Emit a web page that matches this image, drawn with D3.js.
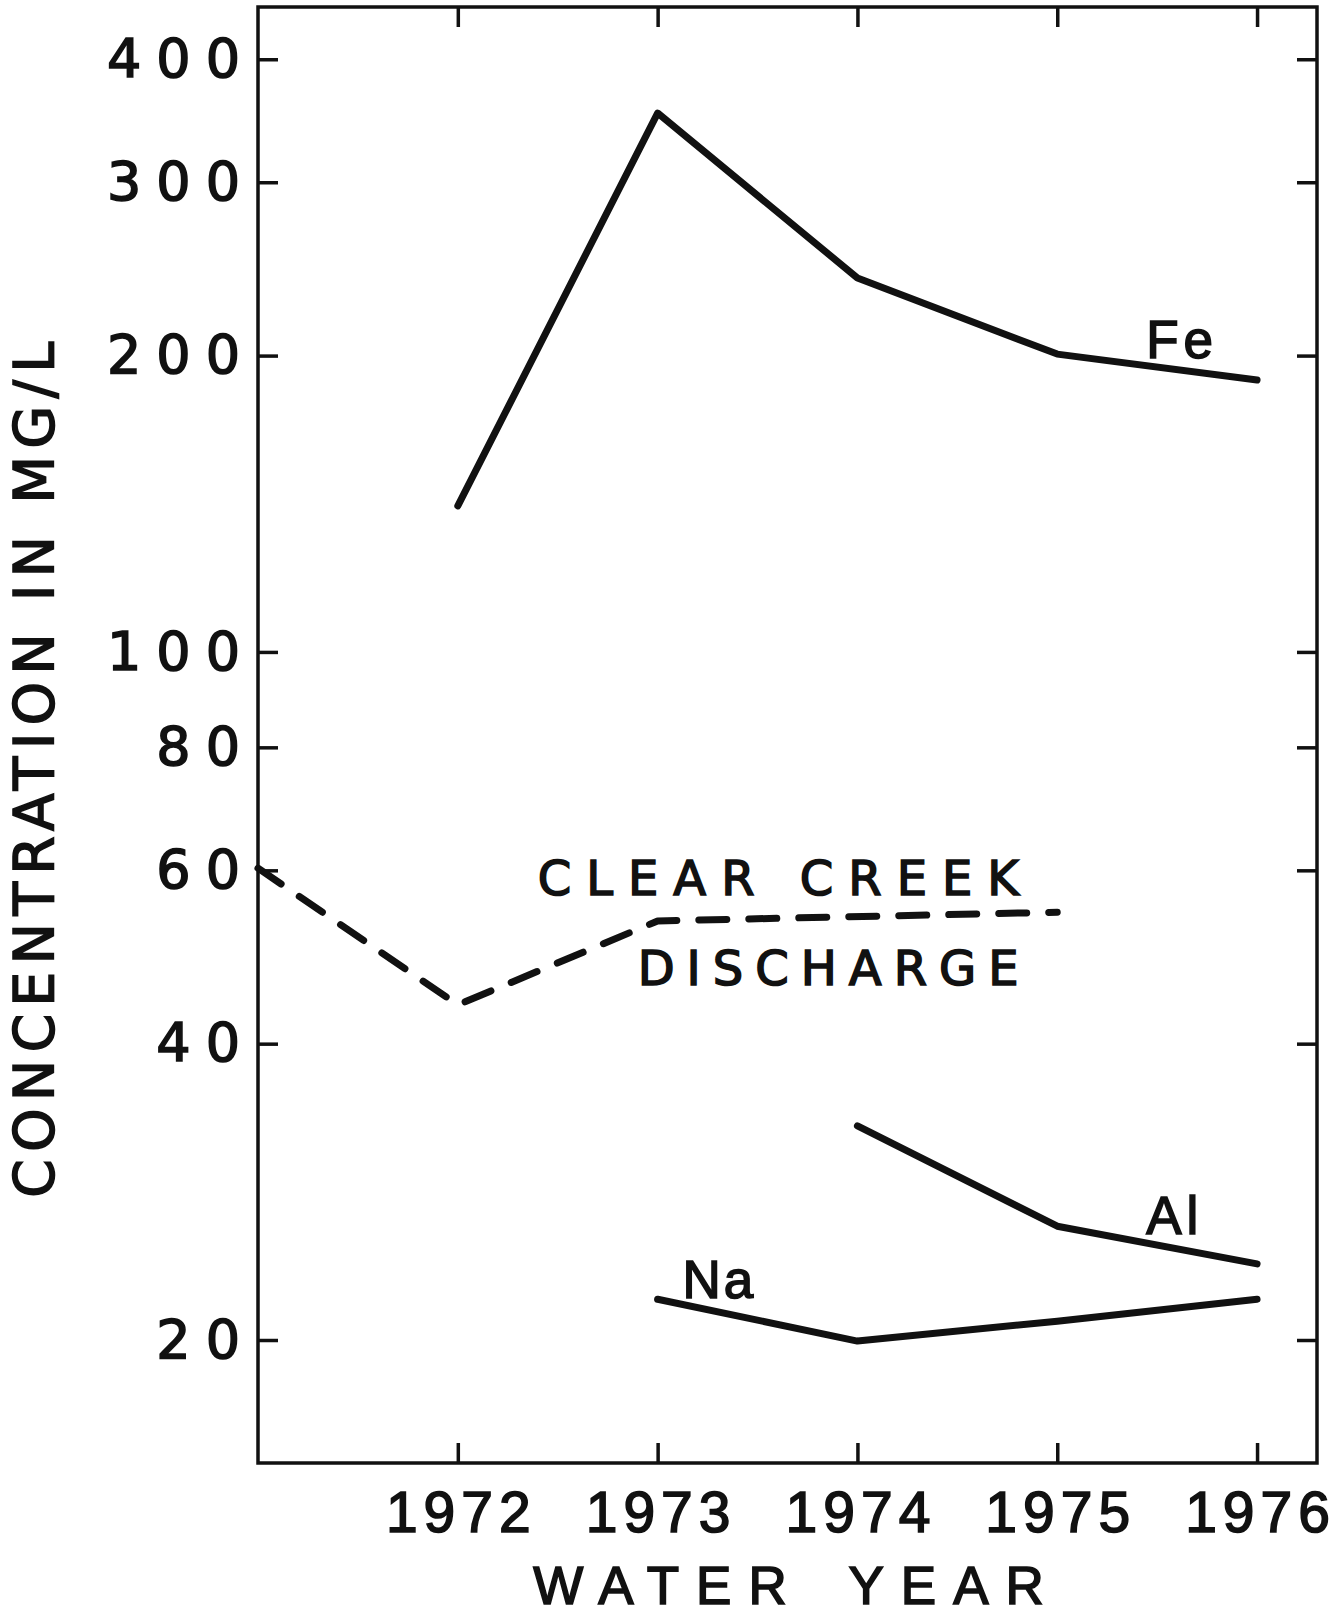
<!DOCTYPE html>
<html>
<head>
<meta charset="utf-8">
<script src="https://cdn.jsdelivr.net/npm/d3@7"></script>
<style>
  body { margin: 0; background: #fff; }
  svg { display: block; }
  text { stroke: #111; stroke-width: 1.6px; }
</style>
</head>
<body>
<div id="chart"></div>
<script>
// Data
const years = [1972, 1973, 1974, 1975, 1976];
const yTicks = [20, 40, 60, 80, 100, 200, 300, 400];

const feYears = [1972, 1973, 1974, 1975, 1976];
const feValues = [140.7, 352.7, 239.8, 200.7, 188.9];

const dischargeYears = [1971, 1972, 1973, 1975];
const dischargeValues = [60.3, 43.8, 53.3, 54.4];

const alYears = [1974, 1975, 1976];
const alValues = [33.0, 26.1, 23.9];

const naYears = [1973, 1974, 1975, 1976];
const naValues = [22.0, 19.95, 20.9, 22.0];

const width = 1344, height = 1617;
const ink = "#111";

const svg = d3.select("#chart")
    .append("svg")
    .attr("width", width)
    .attr("height", height);

svg.append("rect")
    .attr("width", width)
    .attr("height", height)
    .attr("fill", "#fff");

const plotLeft = 258, plotRight = 1317, plotTop = 7, plotBottom = 1463;

const x = d3.scaleLinear().domain([1971, 1976.3]).range([plotLeft, plotRight]);
const y = d3.scaleLog().domain([15, 452]).range([plotBottom, plotTop]);

// axes, ticks pointing inward on all four sides
const styleAxis = (g) => {
    g.select(".domain").remove();
    g.selectAll(".tick line")
        .attr("stroke", ink)
        .attr("stroke-width", 3.5);
};

svg.append("g")
    .attr("transform", "translate(" + plotLeft + ",0)")
    .call(d3.axisLeft(y).tickValues(yTicks).tickSize(-20).tickPadding(3)
        .tickFormat(d3.format("d")))
    .call(styleAxis)
    .call(g => g.selectAll(".tick text")
        .attr("fill", ink)
        .style("font-family", "DejaVu Sans")
        .style("font-size", "54px")
        .style("letter-spacing", "15px"));

svg.append("g")
    .attr("transform", "translate(" + plotRight + ",0)")
    .call(d3.axisRight(y).tickValues(yTicks).tickSize(-20).tickFormat(""))
    .call(styleAxis);

svg.append("g")
    .attr("transform", "translate(0," + plotBottom + ")")
    .call(d3.axisBottom(x).tickValues(years).tickSize(-20).tickPadding(29)
        .tickFormat(d3.format("d")))
    .call(styleAxis)
    .call(g => g.selectAll(".tick text")
        .attr("fill", ink)
        .attr("dx", "3px")
        .style("font-family", "Liberation Sans")
        .style("font-size", "57px")
        .style("letter-spacing", "6px"));

svg.append("g")
    .attr("transform", "translate(0," + plotTop + ")")
    .call(d3.axisTop(x).tickValues(years).tickSize(-20).tickFormat(""))
    .call(styleAxis);

// frame
svg.append("rect")
    .attr("x", plotLeft)
    .attr("y", plotTop)
    .attr("width", plotRight - plotLeft)
    .attr("height", plotBottom - plotTop)
    .attr("fill", "none")
    .attr("stroke", ink)
    .attr("stroke-width", 3.5);

// series
const line = d3.line()
    .x(d => x(d[0]))
    .y(d => y(d[1]));

const drawSeries = (xs, vs, dashed) => {
    svg.append("path")
        .datum(d3.zip(xs, vs))
        .attr("d", line)
        .attr("fill", "none")
        .attr("stroke", ink)
        .attr("stroke-width", 7)
        .attr("stroke-linecap", "round")
        .attr("stroke-linejoin", "round")
        .attr("stroke-dasharray", dashed ? "28,22" : null);
};

drawSeries(feYears, feValues, false);
drawSeries(dischargeYears, dischargeValues, true);
drawSeries(alYears, alValues, false);
drawSeries(naYears, naValues, false);

// labels
const label = (txt, px, py, font, size, spacing) => {
    return svg.append("text")
        .attr("x", px)
        .attr("y", py)
        .attr("fill", ink)
        .style("font-family", font)
        .style("font-size", size + "px")
        .style("letter-spacing", spacing + "px")
        .text(txt);
};

label("Fe", x(1975.445), y(199), "Liberation Sans", 53, 5);
label("Al", x(1975.445), y(25.6), "Liberation Sans", 53, 5);
label("Na", x(1973.125), y(22.05), "Liberation Sans", 53, 3);
label("CLEAR CREEK", x(1972.4), y(56.6), "DejaVu Sans", 48, 15);
label("DISCHARGE", x(1972.9), y(45.9), "DejaVu Sans", 48, 12);

// axis titles
label("WATER YEAR", 797, 1604, "Liberation Sans", 53, 17)
    .attr("text-anchor", "middle")
    .style("word-spacing", "14px");

label("CONCENTRATION IN MG/L", 0, 0, "DejaVu Sans", 55, 7.5)
    .attr("text-anchor", "middle")
    .attr("transform", "translate(53,766) rotate(-90)");
</script>
</body>
</html>
